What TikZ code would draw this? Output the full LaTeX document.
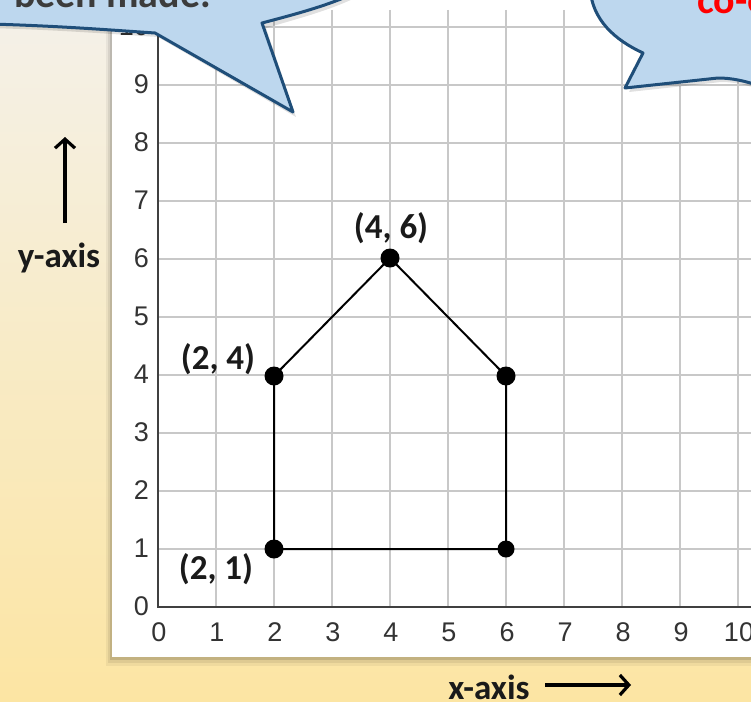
\documentclass[tikz,border=0pt]{standalone}
\usepackage{fontspec}
\setmainfont{Carlito}
\newfontfamily\tickfont{Liberation Sans}
\usetikzlibrary{arrows.meta}
\definecolor{bgtop}{HTML}{F4F1EA}
\definecolor{bgbot}{HTML}{FCE5A3}
\definecolor{gridgray}{HTML}{C8C8C8}
\definecolor{axisgray}{HTML}{404040}
\definecolor{callfill}{HTML}{BDD7EE}
\definecolor{calldraw}{HTML}{1F4E79}
\definecolor{txtdark}{HTML}{1A1A1A}
\tikzset{
  gridline/.style={draw=gridgray, line width=1.5pt},
  axisline/.style={draw=axisgray, line width=2.5pt},
  ticklab/.style={font=\tickfont\fontsize{27}{27}\selectfont, text=black!80, inner sep=0pt},
  ptlab/.style={font=\bfseries\fontsize{35}{35}\selectfont, text=txtdark, inner sep=0pt},
  dot/.style={circle, fill=black, inner sep=0pt, minimum size=19pt},
  smalldot/.style={circle, fill=black, inner sep=0pt, minimum size=17pt},
  shapeline/.style={draw=black, line width=2pt},
  callout/.style={fill=callfill, draw=calldraw, line width=3pt, line join=round},
  callshadow/.style={fill=black, opacity=0.12},
  axarrow/.style={draw=black, line width=3.2pt, -{Straight Barb[length=9pt, width=20pt, line width=3.2pt]}}
}
\begin{document}
\begin{tikzpicture}[x=1pt,y=-1pt]
\useasboundingbox (0,0) rectangle (751,701);
\clip (0,0) rectangle (751,701);
% background
\shade[top color=bgtop, bottom color=bgbot] (0,0) rectangle (751,701);
% panel shadow
\fill[black, opacity=0.05] (106,-5) rectangle (760,666);
\fill[black, opacity=0.07] (108,-5) rectangle (760,663);
\fill[black, opacity=0.12] (110,-5) rectangle (760,660);
\fill[white] (112,-5) rectangle (760,657);
% grid
\foreach \i in {1,...,11} \draw[gridline] ({158+58*\i},10) -- ({158+58*\i},607);
\foreach \j in {1,...,10} \draw[gridline] (158,{607-58*\j}) -- (760,{607-58*\j});
\draw[axisline] (158,8) -- (158,607) -- (760,607);
% tick labels
\foreach \i in {0,...,10} \node[ticklab] (xl\i) at ({159+58*\i},632) {\i};
\foreach \j in {0,...,10} \node[ticklab, anchor=east] (yl\j) at (149,{606-58*\j}) {\j};
% points
\node[dot] (p21) at (274,549) {};
\node[smalldot] (p61) at (506,549) {};
\node[dot] (p24) at (274,376) {};
\node[dot] (p64) at (506,376) {};
\node[dot] (p46) at (390,258) {};
\draw[shapeline] (p21.center) -- (p24.center) -- (p46.center) -- (p64.center) -- (p61.center) -- cycle;
% point labels
\node[ptlab] (l24) at (218,359) {(2, 4)};
\node[ptlab] (l46) at (391,228) {(4, 6)};
\node[ptlab] (l21) at (216,569) {(2, 1)};
% axis titles
\node[ptlab] (ytitle) at (59,258) {y-axis};
\coordinate (ya0) at (65,223);
\coordinate (ya1) at (65,137);
\draw[axarrow] (ya0) -- (ya1);
\node[ptlab] (xtitle) at (489,687) {x-axis};
\coordinate (xa0) at (545,685);
\coordinate (xa1) at (631,685);
\draw[axarrow] (xa0) -- (xa1);
% left callout
\fill[callshadow] (-10,28) .. controls (60,30) and (110,34) .. (158,37) -- (296,117) -- (266,28) .. controls (300,18) and (340,8) .. (370,-10) -- (-10,-10) -- cycle;
\path[callout] (-10,24) .. controls (60,26) and (110,30) .. (155,33) -- (293,112) -- (262,23) .. controls (296,14) and (335,4) .. (365,-12) -- (-10,-12) -- cycle;
\node[font=\bfseries\fontsize{40}{40}\selectfont, text=txtdark!85, anchor=base west, inner sep=0pt] (tl) at (14,8) {been made.};
% right callout
\fill[callshadow] (594,-10) .. controls (596,22) and (619,42) .. (647,57) -- (629,92) -- (721,82) .. controls (735,82) and (748,85) .. (760,90) -- (760,-10) -- cycle;
\path[callout] (590,-12) .. controls (592,20) and (615,40) .. (643,53) -- (625,88) -- (718,78) .. controls (732,78) and (745,81) .. (760,86) -- (760,-12) -- cycle;
\node[font=\bfseries\fontsize{40}{40}\selectfont, text=red, anchor=base west, inner sep=0pt] (tr) at (697,14) {co-ordinates};
\end{tikzpicture}
\end{document}
